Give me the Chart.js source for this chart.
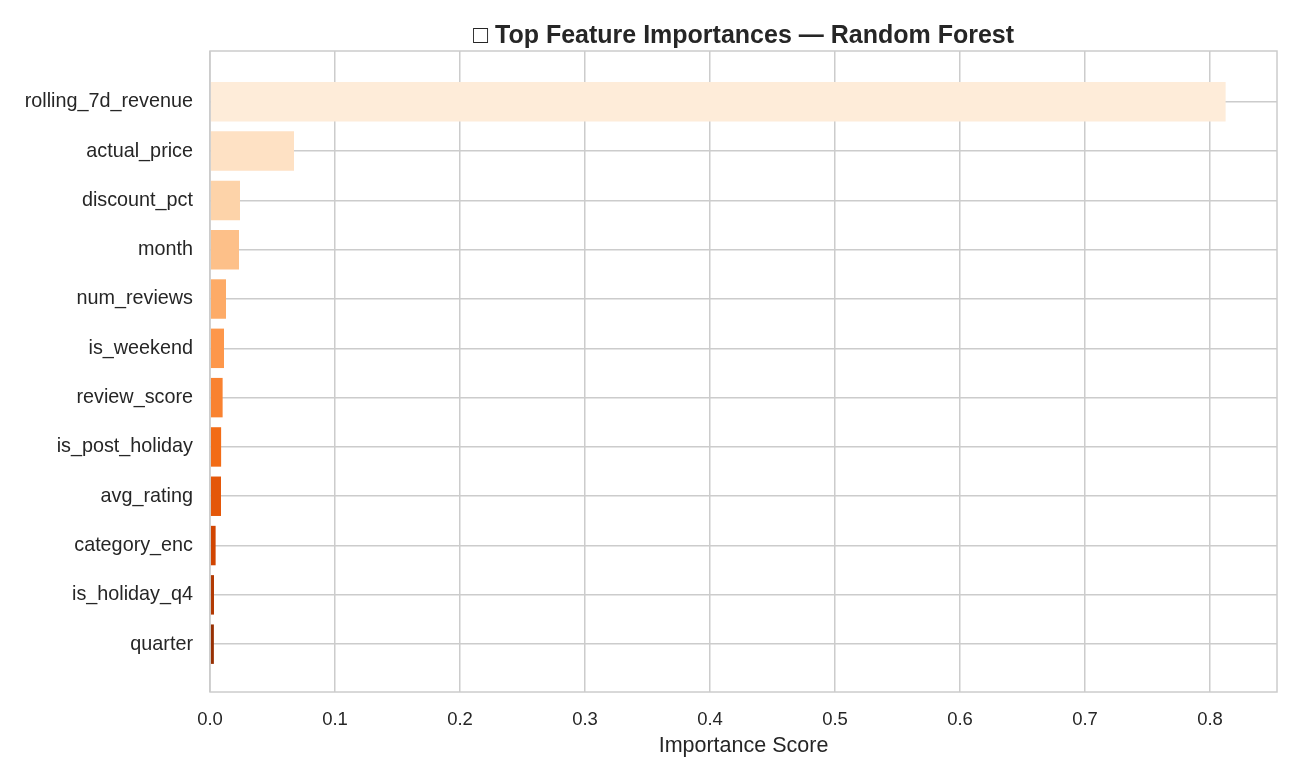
<!DOCTYPE html>
<html>
<head>
<meta charset="utf-8">
<script src="https://cdn.jsdelivr.net/npm/chart.js@4.4.0/dist/chart.umd.min.js"></script>
<style>
  html, body { margin: 0; padding: 0; background: #ffffff; }
  #wrap { width: 1300px; height: 780px; }
</style>
</head>
<body>
<div id="wrap"><canvas id="c" width="1300" height="780"></canvas></div>
<script>
const features = ["rolling_7d_revenue", "actual_price", "discount_pct", "month", "num_reviews", "is_weekend", "review_score", "is_post_holiday", "avg_rating", "category_enc", "is_holiday_q4", "quarter"];
const importances = [0.8125, 0.0672, 0.0240, 0.0232, 0.0128, 0.0112, 0.0101, 0.0089, 0.0088, 0.0045, 0.0032, 0.0031];
const barColors = ["#feecd9", "#fee1c4", "#fdd3a9", "#fdc089", "#fdab67", "#fd974b", "#f98230", "#f26c16", "#e45709", "#d14501", "#b23a03", "#973003"];
const xTicks = [0, 0.1, 0.2, 0.3, 0.4, 0.5, 0.6, 0.7, 0.8];

const GRID = "#cccccc";
const TEXT = "#262626";
const FONT = "Liberation Sans, Arial, sans-serif";

const framePlugin = {
  id: "frame",
  afterDatasetsDraw(chart) {
    const a = chart.chartArea, ctx = chart.ctx;
    ctx.save();
    ctx.strokeStyle = GRID;
    ctx.lineWidth = 1.5;
    ctx.strokeRect(a.left, a.top, a.right - a.left, a.bottom - a.top);
    ctx.restore();
  }
};

new Chart(document.getElementById("c"), {
  type: "bar",
  data: {
    datasets: [{
      data: features.map((f, i) => ({ x: importances[i], y: i })),
      backgroundColor: barColors,
      borderWidth: 0,
      categoryPercentage: 1.0,
      barPercentage: 0.8
    }]
  },
  plugins: [framePlugin],
  options: {
    indexAxis: "y",
    responsive: false,
    animation: false,
    layout: { padding: { left: 0, right: 23, top: 0, bottom: 0 } },
    plugins: {
      legend: { display: false },
      tooltip: { enabled: false },
      title: {
        display: true,
        fullSize: false,
        text: "□ Top Feature Importances — Random Forest",
        color: TEXT,
        font: { family: FONT, size: 25, weight: "bold" },
        padding: { top: 21, bottom: 0 }
      }
    },
    scales: {
      x: {
        type: "linear",
        min: 0,
        max: 0.8536,
        afterBuildTicks(scale) { scale.ticks = xTicks.map(v => ({ value: v })); },
        afterFit(scale) { scale.height = 88; },
        border: { display: false },
        grid: { color: GRID, lineWidth: 1.5, drawTicks: false },
        ticks: {
          color: TEXT,
          padding: 17,
          font: { family: FONT, size: 18.5 },
          callback: v => Number(v).toFixed(1)
        },
        title: {
          display: true,
          text: "Importance Score",
          color: TEXT,
          font: { family: FONT, size: 21.5 },
          padding: { top: 0, bottom: 21 }
        }
      },
      y: {
        type: "linear",
        reverse: true,
        offset: false,
        min: -1.03,
        max: 11.97,
        afterBuildTicks(scale) { scale.ticks = features.map((f, i) => ({ value: i })); },
        afterFit(scale) { scale.width = 210; },
        border: { display: false },
        grid: { color: GRID, lineWidth: 1.5, drawTicks: false, offset: false },
        ticks: {
          color: TEXT,
          padding: 17,
          autoSkip: false,
          font: { family: FONT, size: 19.8 },
          callback: v => features[v]
        }
      }
    }
  }
});
</script>
</body>
</html>
